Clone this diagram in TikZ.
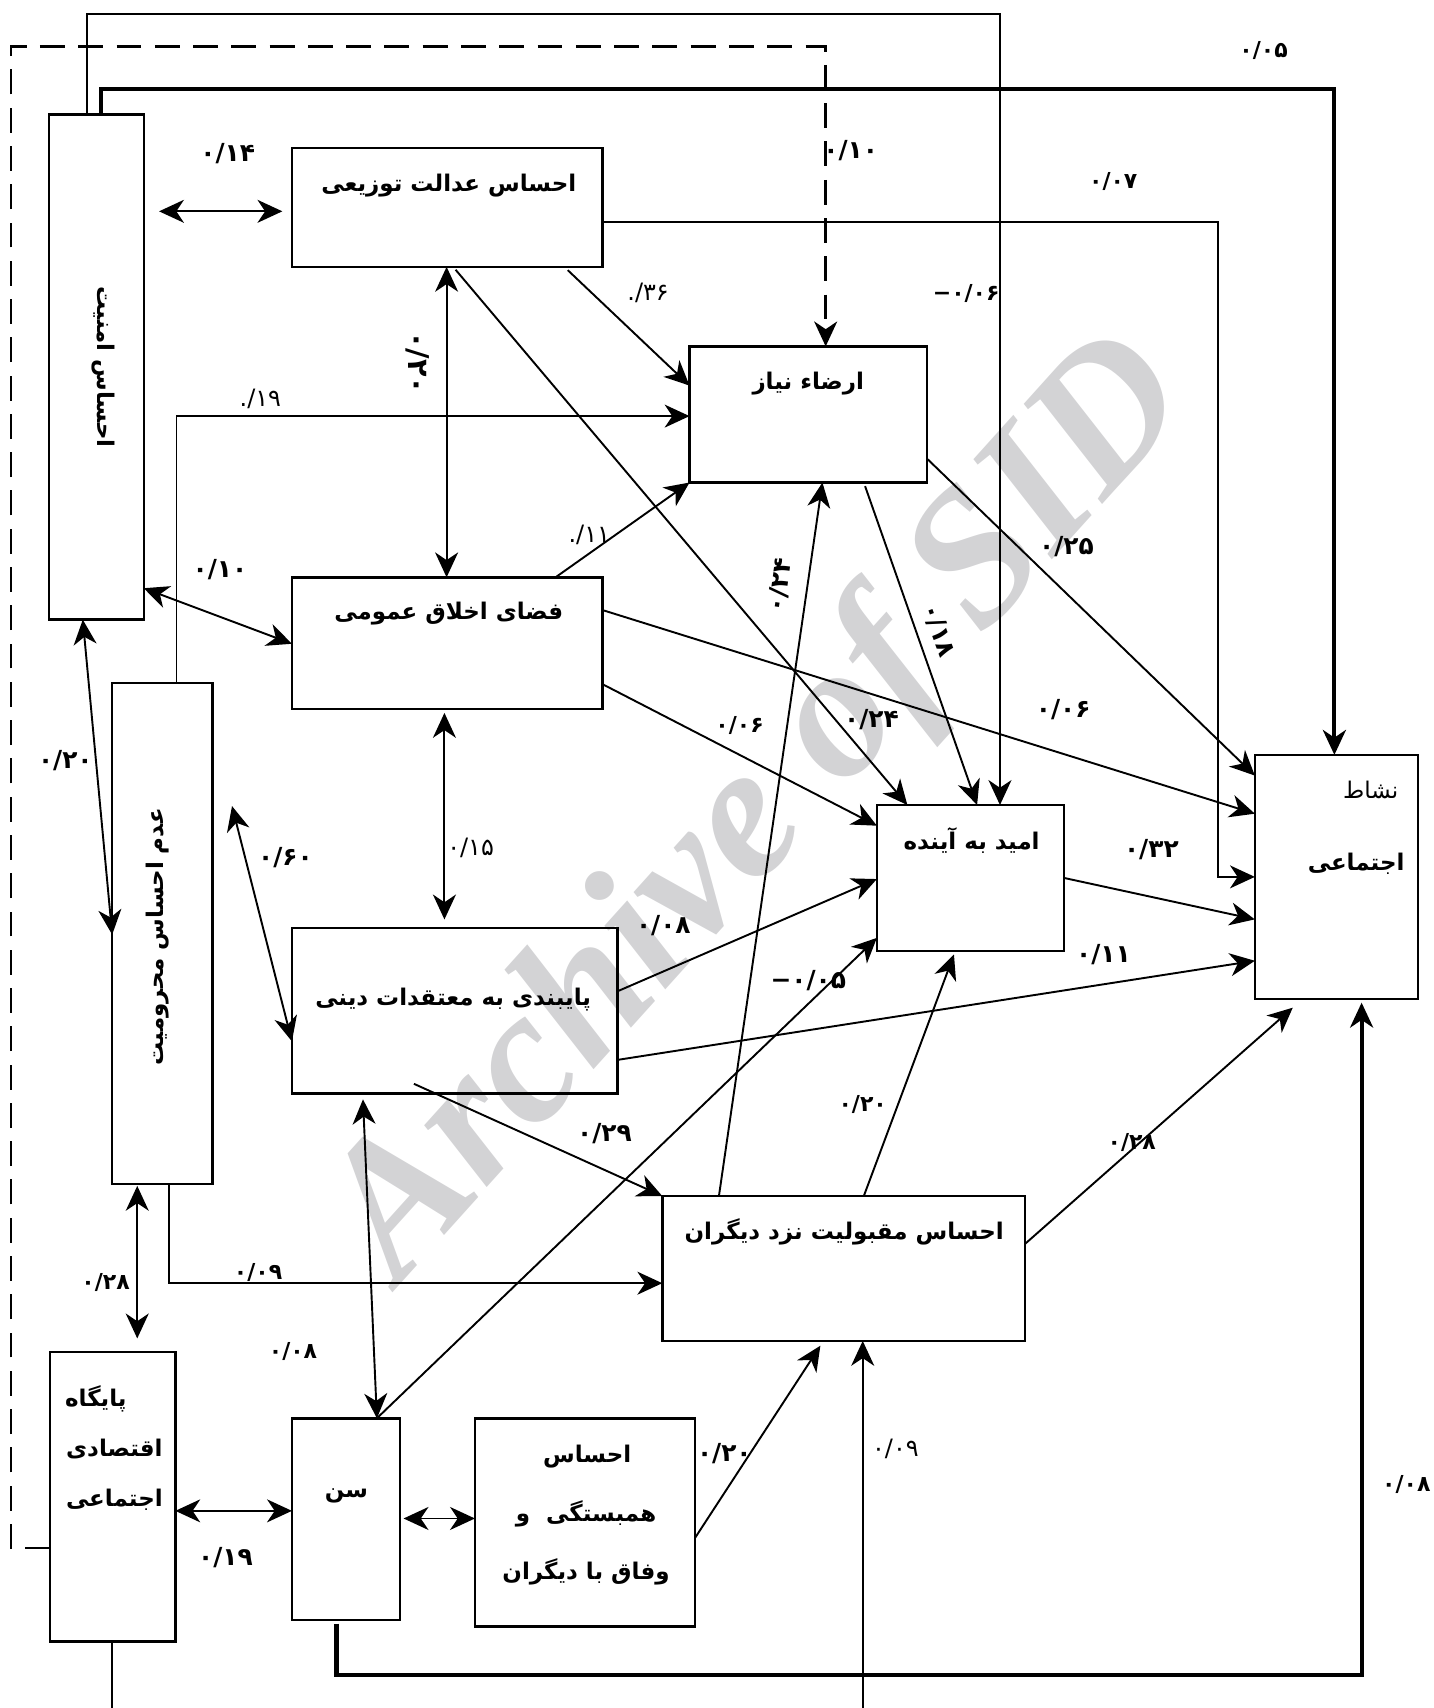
\documentclass[tikz,border=0pt]{standalone}
\usepackage{fontspec}
\usetikzlibrary{arrows.meta,calc}
\TeXXeTstate=1
\newfontfamily\fa[Script=Arabic]{DejaVu Sans}
\newfontfamily\fanum{DejaVu Sans}
\newfontfamily\wmfont{Liberation Serif}
\definecolor{wmgray}{RGB}{211,211,213}
\begin{document}
\begin{tikzpicture}[x=0.02cm,y=-0.02cm,
  >={Stealth[length=13pt,width=12pt,inset=4pt]},
  box/.style={draw,line width=1.3pt,anchor=north west,inner sep=0pt,outer sep=0pt},
  con/.style={line width=1pt},
  thickcon/.style={line width=2.2pt},
  dashcon/.style={line width=1.4pt,dash pattern=on 13pt off 7pt},
  lab/.style={font=\fanum\bfseries\fontsize{13}{15}\selectfont,inner sep=1pt},
  labm/.style={font=\fanum\bfseries\fontsize{11.5}{14}\selectfont,inner sep=1pt},
  labn/.style={font=\fanum\fontsize{12.5}{15}\selectfont,inner sep=1pt},
  txt/.style={font=\fa\bfseries\fontsize{12}{15}\selectfont,inner sep=0pt},
]
\useasboundingbox (0,0) rectangle (1316,1568);
\clip (0,0) rectangle (1316,1568);

% watermark
\node[text=wmgray,font=\wmfont\bfseries\itshape\fontsize{100}{100}\selectfont,rotate=48] (wm) at (700,745) {Archive of SID};

% boxes
\node[box,minimum width=1.74cm,minimum height=9.28cm] (A) at (45,105) {};
\node[box,minimum width=5.70cm,minimum height=2.18cm] (E) at (268,136) {};
\node[box,minimum width=4.36cm,minimum height=2.50cm] (R) at (633,318) {};
\node[box,minimum width=5.70cm,minimum height=2.42cm] (F) at (268,530) {};
\node[box,minimum width=1.84cm,minimum height=9.20cm] (M) at (103,627) {};
\node[box,minimum width=5.98cm,minimum height=3.04cm] (P) at (268,852) {};
\node[box,minimum width=3.44cm,minimum height=2.68cm] (O) at (805,739) {};
\node[box,minimum width=3.00cm,minimum height=4.48cm] (N) at (1152,693) {};
\node[box,minimum width=6.66cm,minimum height=2.66cm] (Q) at (608,1098) {};
\node[box,minimum width=2.30cm,minimum height=5.32cm] (G) at (46,1241) {};
\node[box,minimum width=1.98cm,minimum height=3.70cm] (S) at (268,1302) {};
\node[box,minimum width=4.04cm,minimum height=3.82cm] (H) at (436,1302) {};

% box texts
\node[txt,rotate=-90] (tA) at (95,337) {\beginR احساس امنیت\endR};
\node[txt] (tE) at (412,170) {\beginR احساس عدالت توزیعی\endR};
\node[txt] (tR) at (742,352) {\beginR ارضاء نیاز\endR};
\node[txt] (tF) at (412,563) {\beginR فضای اخلاق عمومی\endR};
\node[txt,rotate=90] (tM) at (145,860) {\beginR عدم احساس محرومیت\endR};
\node[txt] (tP) at (416,918) {\beginR پایبندی به معتقدات دینی\endR};
\node[txt] (tO) at (892,772) {\beginR امید به آینده\endR};
\node[font=\fa\fontsize{12}{14}\selectfont,inner sep=0pt,anchor=east] (tN1) at (1284,725) {\beginR نشاط\endR};
\node[txt] (tN2) at (1245,793) {\beginR اجتماعی\endR};
\node[txt] (tQ) at (775,1131) {\beginR احساس مقبولیت نزد دیگران\endR};
\node[txt] (tG1) at (88,1284) {\beginR پایگاه\endR};
\node[txt] (tG2) at (105,1330) {\beginR اقتصادی\endR};
\node[txt] (tG3) at (105,1377) {\beginR اجتماعی\endR};
\node[txt] (tS) at (318,1373) {\beginR سن\endR};
\node[txt] (tH1) at (539,1337) {\beginR احساس\endR};
\node[txt] (tH2) at (538,1390) {\beginR همبستگی\ \ و\endR};
\node[txt] (tH3) at (538,1443) {\beginR وفاق با دیگران\endR};

% free end
\coordinate (mp1) at (213,740);

% two-way connectors
\draw[con,<->,shorten <=8pt,shorten >=5pt] (A.east |- 0,194) -- (E.west |- 0,194);
\draw[con,<->] (E.south -| 410,0) -- (F.north -| 410,0);
\draw[con,<->,shorten <=2pt,shorten >=4.5pt] (F.south -| 408,0) -- (P.north -| 408,0);
\draw[con,<->] (A.east |- 0,540) -- (F.west |- 0,591);
\draw[con,<->] (A.south -| 76,0) -- (M.west |- 0,858);
\draw[con,<->] (mp1) -- (P.west |- 0,956);
\draw[con,<->,shorten <=1pt,shorten >=7pt] (M.south -| 126,0) -- (G.north -| 126,0);
\draw[con,<->] (G.east |- 0,1387) -- (S.west |- 0,1387);
\draw[con,<->,shorten <=2pt] (S.east |- 0,1394) -- (H.west |- 0,1394);
\draw[con,<->,shorten <=3pt] (P.south -| 333,0) -- (S.north -| 346,0);

% one-way connectors
\draw[con,->] (A.north -| 80,0) |- (918,13) -- (O.north -| 918,0);
\draw[dashcon,->] (G.west |- 0,1421) -| (10,43) -| (R.north -| 758,0);
\draw[thickcon,->] (A.north -| 93,0) |- (1225,82) -- (N.north -| 1225,0);
\draw[con,->] (E.east |- 0,204) -| (1118,805) -- (N.west |- 0,805);
\draw[con,->,shorten <=2.5pt] (E.south -| 518,0) -- (R.west |- 0,354);
\draw[con,->,shorten <=2pt] (E.south -| 416,0) -- (O.north -| 833,0);
\draw[con,->] (M.north -| 162,0) |- (R.west |- 0,382);
\draw[con,->] (F.north -| 510,0) -- (R.south west);
\draw[con,->] (F.east |- 0,628) -- (O.west |- 0,758);
\draw[con,->] (F.east |- 0,560) -- (N.west |- 0,747);
\draw[con,->] (R.east |- 0,421) -- (N.west |- 0,712);
\draw[con,->,shorten <=2pt] (R.south -| 793,0) -- (O.north -| 897,0);
\draw[con,->] (P.east |- 0,910) -- (O.west |- 0,807);
\draw[con,->] (P.east |- 0,973) -- (N.west |- 0,882);
\draw[con,->] (O.east |- 0,806) -- (N.west |- 0,844);
\draw[con,->] ($(P.south -| 380,0)+(0,-9)$) -- (Q.north west);
\draw[con,->] (S.north -| 346,0) -- (O.west |- 0,861);
\draw[con,->] (Q.north -| 660,0) -- (R.south -| 755,0);
\draw[con,->,shorten >=2pt] (Q.north -| 793,0) -- (O.south -| 877,0);
\draw[con,->,shorten >=7pt] (Q.east |- 0,1142) -- (N.south -| 1196,0);
\draw[con,->] (M.south -| 155,0) |- (Q.west |- 0,1178);
\draw[con,->,shorten >=3pt] (H.east |- 0,1412) -- (Q.south -| 756,0);
\draw[con,->] (G.south -| 103,0) -- (103,1620) -| (Q.south -| 792,0);
\draw[thickcon,->,shorten <=2pt,shorten >=2pt] (S.south -| 309,0) |- (1250,1538) -- (N.south -| 1250,0);

% labels
\node[labm] (l01) at (1160,46) {۰/۰۵};
\node[labm] (l02) at (1022,167) {۰/۰۷};
\node[lab] (l03) at (781,138) {۰/۱۰};
\node[labm] (l04) at (887,269) {−۰/۰۶};
\node[lab] (l05) at (209,141) {۰/۱۴};
\node[labn] (l06) at (595,269) {./۳۶};
\node[lab,rotate=-90,font=\fanum\bfseries\fontsize{15}{17}\selectfont] (l07) at (383,333) {۰/۲۰};
\node[labn] (l08) at (239,366) {./۱۹};
\node[labn] (l09) at (541,491) {./۱۱};
\node[lab] (l10) at (202,523) {۰/۱۰};
\node[lab] (l11) at (979,502) {۰/۲۵};
\node[lab,rotate=82] (l12) at (716,537) {۰/۲۴};
\node[lab,rotate=-70] (l13) at (862,579) {۰/۱۸};
\node[lab] (l14) at (800,661) {۰/۲۴};
\node[lab] (l15) at (976,651) {۰/۰۶};
\node[labm] (l16) at (679,666) {۰/۰۶};
\node[lab] (l17) at (60,698) {۰/۲۰};
\node[lab] (l18) at (262,787) {۰/۶۰};
\node[labn] (l19) at (432,778) {۰/۱۵};
\node[lab] (l20) at (1057,780) {۰/۳۲};
\node[lab] (l21) at (609,850) {۰/۰۸};
\node[lab] (l22) at (1013,876) {۰/۱۱};
\node[lab] (l23) at (742,900) {−۰/۰۵};
\node[labm] (l24) at (792,1014) {۰/۲۰};
\node[lab] (l25) at (555,1041) {۰/۲۹};
\node[labm] (l26) at (1039,1049) {۰/۲۸};
\node[labm] (l27) at (97,1177) {۰/۲۸};
\node[labm] (l28) at (237,1168) {۰/۰۹};
\node[labm] (l29) at (269,1241) {۰/۰۸};
\node[lab] (l30) at (665,1334) {۰/۲۰};
\node[labn] (l31) at (822,1330) {۰/۰۹};
\node[labm] (l32) at (1291,1363) {۰/۰۸};
\node[lab] (l33) at (207,1430) {۰/۱۹};
\end{tikzpicture}
\end{document}
